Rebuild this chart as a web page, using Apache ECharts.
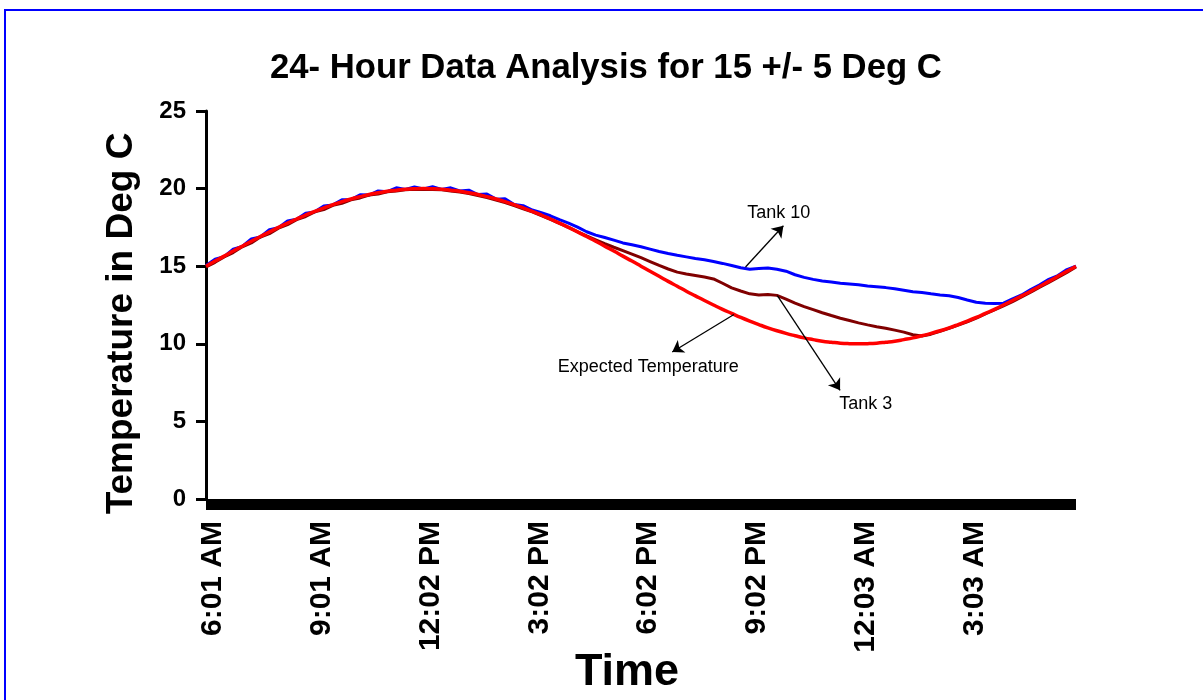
<!DOCTYPE html>
<html><head><meta charset="utf-8">
<script src="https://cdn.jsdelivr.net/npm/echarts@6/dist/echarts.min.js"></script>
<style>html,body{margin:0;padding:0;background:#fff}#c{width:1203px;height:700px}</style>
</head><body><div id="c"></div>
<script>
// minutes elapsed since 6:01 AM
const minutes = [0,15,30,45,60,75,90,105,120,135,150,165,180,195,210,225,240,255,270,285,300,315,330,345,360,375,390,405,420,435,450,465,480,495,510,525,540,555,570,585,600,615,630,645,660,675,690,705,720,735,750,765,780,795,810,825,840,855,870,885,900,915,930,945,960,975,990,1005,1020,1035,1050,1065,1080,1095,1110,1125,1140,1155,1170,1185,1200,1215,1230,1245,1260,1275,1290,1305,1320,1335,1350,1365,1380,1395,1410,1425,1440];
const tickLabels = ['6:01 AM','9:01 AM','12:02 PM','3:02 PM','6:02 PM','9:02 PM','12:03 AM','3:03 AM'];
const expected = [15.00,15.33,15.65,15.98,16.29,16.61,16.91,17.21,17.50,17.78,18.04,18.30,18.54,18.76,18.97,19.16,19.33,19.48,19.62,19.73,19.83,19.90,19.96,19.99,20.00,19.99,19.96,19.90,19.83,19.73,19.62,19.48,19.33,19.16,18.97,18.76,18.54,18.30,18.04,17.78,17.50,17.21,16.91,16.61,16.29,15.98,15.65,15.33,15.00,14.67,14.35,14.02,13.71,13.39,13.09,12.79,12.50,12.22,11.96,11.70,11.46,11.24,11.03,10.84,10.67,10.52,10.38,10.27,10.17,10.10,10.04,10.01,10.00,10.01,10.04,10.10,10.17,10.27,10.38,10.52,10.67,10.84,11.03,11.24,11.46,11.70,11.96,12.22,12.50,12.79,13.09,13.39,13.71,14.02,14.35,14.67,15.00];
const tank10 = [15.05,15.45,15.62,16.10,16.28,16.75,16.88,17.35,17.48,17.92,18.02,18.42,18.50,18.88,18.95,19.28,19.30,19.60,19.58,19.85,19.80,20.05,19.95,20.10,19.98,20.12,19.95,20.05,19.85,19.90,19.62,19.65,19.32,19.35,18.98,18.90,18.62,18.45,18.25,18.00,17.78,17.52,17.22,17.00,16.85,16.68,16.50,16.38,16.25,16.10,15.95,15.82,15.70,15.60,15.50,15.42,15.30,15.18,15.05,14.90,14.80,14.85,14.88,14.80,14.68,14.45,14.28,14.15,14.05,13.98,13.90,13.85,13.80,13.72,13.67,13.62,13.55,13.45,13.35,13.30,13.22,13.15,13.10,12.98,12.82,12.68,12.62,12.60,12.62,12.90,13.15,13.50,13.80,14.15,14.40,14.78,15.00];
const tank3 = [14.95,15.25,15.60,15.88,16.25,16.50,16.88,17.10,17.45,17.68,18.00,18.20,18.50,18.65,18.92,19.05,19.28,19.40,19.58,19.65,19.80,19.85,19.92,19.95,19.96,19.94,19.92,19.85,19.78,19.68,19.55,19.42,19.26,19.10,18.90,18.70,18.50,18.26,18.02,17.76,17.50,17.22,16.95,16.70,16.45,16.22,16.00,15.78,15.55,15.30,15.05,14.82,14.62,14.50,14.40,14.30,14.18,13.90,13.60,13.40,13.22,13.15,13.18,13.12,12.88,12.62,12.40,12.20,12.00,11.82,11.65,11.50,11.35,11.22,11.10,11.00,10.88,10.75,10.58,10.50,10.62,10.80,11.00,11.20,11.42,11.65,11.92,12.18,12.45,12.72,13.02,13.32,13.65,13.95,14.28,14.60,14.95];
// annotation labels and arrows, in data coordinates [minutes, deg C]
const annotationNames = ['Tank 10','Expected Temperature','Tank 3'];
const annotationText = [[948,18.41],[732,8.5],[1092,6.1]];
const arrowFrom = [[893,14.95],[873.8,11.89],[945.7,13.11]];
const arrowTo = [[955.7,17.61],[771.7,9.47],[1049.5,7.0]];

const FONT = "'Liberation Sans', Arial, Helvetica, sans-serif";
const pair = arr => arr.map((v, i) => [minutes[i], v]);

const chart = echarts.init(document.getElementById('c'), null, {renderer: 'canvas'});
chart.setOption({
  animation: false,
  backgroundColor: '#ffffff',
  textStyle: {fontFamily: FONT},
  title: {
    text: '24- Hour Data Analysis for 15 +/- 5 Deg C',
    left: 265, top: 46,
    textStyle: {fontSize: 34.7, fontWeight: 'bold', color: '#000', fontFamily: FONT}
  },
  graphic: [{
    type: 'rect', silent: true, z: -1,
    shape: {x: 5, y: 10, width: 1400, height: 900},
    style: {fill: 'none', stroke: '#0000ff', lineWidth: 2}
  }],
  grid: {left: 206, right: 127, top: 111, bottom: 201, containLabel: false, outerBoundsMode: 'none'},
  xAxis: {
    type: 'value', min: 0, max: 1440, interval: 180,
    offset: 5,
    axisLine: {show: true, onZero: false, lineStyle: {color: '#000', width: 11, cap: 'butt'}},
    axisTick: {show: false},
    splitLine: {show: false},
    axisLabel: {
      rotate: 90, fontSize: 30, fontWeight: 'bold', color: '#000', fontFamily: FONT,
      margin: 17, verticalAlign: 'top', lineHeight: 14,
      formatter: v => tickLabels[Math.round(v / 180)] || ''
    },
    name: 'Time', nameLocation: 'middle', nameGap: 146, nameMoveOverlap: false,
    nameTextStyle: {fontSize: 45, fontWeight: 'bold', color: '#000', fontFamily: FONT, padding: [0, 28, 0, 0]}
  },
  yAxis: {
    type: 'value', min: 0, max: 25, interval: 5,
    axisLine: {show: true, lineStyle: {color: '#000', width: 3}},
    axisTick: {show: true, length: 10, lineStyle: {color: '#000', width: 3}},
    splitLine: {show: false},
    axisLabel: {fontSize: 24, fontWeight: 'bold', color: '#000', fontFamily: FONT, margin: 20},
    name: 'Temperature in Deg C', nameLocation: 'middle', nameGap: 66, nameRotate: 90, nameMoveOverlap: false,
    nameTextStyle: {fontSize: 37, fontWeight: 'bold', color: '#000', fontFamily: FONT, padding: [0, 37, 0, 0]}
  },
  series: [
    {name: 'Tank 10', type: 'line', data: pair(tank10), showSymbol: false, symbol: 'none',
     lineStyle: {color: '#0000ff', width: 3}, itemStyle: {color: '#0000ff'}, z: 2},
    {name: 'Tank 3', type: 'line', data: pair(tank3), showSymbol: false, symbol: 'none',
     lineStyle: {color: '#800000', width: 3}, itemStyle: {color: '#800000'}, z: 3},
    {name: 'Expected Temperature', type: 'line', data: pair(expected), showSymbol: false, symbol: 'none',
     smooth: true,
     lineStyle: {color: '#ff0000', width: 3.5}, itemStyle: {color: '#ff0000'}, z: 4,
     markLine: {
       silent: true, symbol: ['none', 'arrow'], symbolSize: 11, precision: 2,
       lineStyle: {color: '#000', width: 1.3, type: 'solid'},
       label: {show: false},
       data: arrowFrom.map((f, i) => [{coord: f}, {coord: arrowTo[i]}])
     },
     markPoint: {
       silent: true, symbol: 'circle', symbolSize: 0,
       label: {show: true, position: 'inside', color: '#000', fontSize: 18, fontFamily: FONT,
               formatter: p => p.name},
       data: annotationNames.map((n, i) => ({name: n, coord: annotationText[i], value: 0}))
     }
    }
  ]
});
</script></body></html>
